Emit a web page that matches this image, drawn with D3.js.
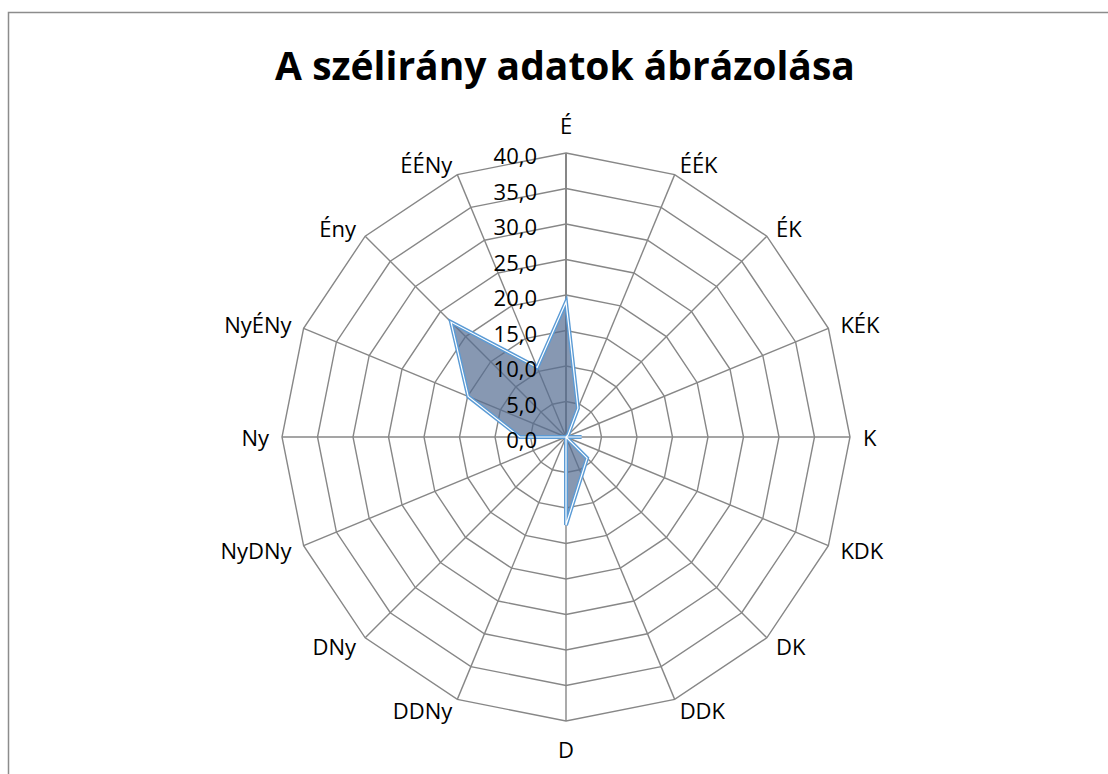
<!DOCTYPE html>
<meta charset="utf-8">
<style>

body {
  margin: 0;
  background: #fff;
}

text {
  font-family: "Open Sans", sans-serif;
  fill: #000;
}

.grid {
  fill: none;
  stroke: #878787;
  stroke-width: 1.4px;
}

</style>
<body>
<script src="https://cdn.jsdelivr.net/npm/d3@7/dist/d3.min.js"></script>
<script>

var directions = ["É", "ÉÉK", "ÉK", "KÉK", "K", "KDK", "DK", "DDK",
                  "D", "DDNy", "DNy", "NyDNy", "Ny", "NyÉNy", "Ény", "ÉÉNy"];

var values = [19.0, 4.4, 0.4, 0, 2.2, 0, 4.2, 5.8,
              12.4, 0, 0, 0, 6.5, 14.9, 22.9, 10.6];

var ticks = [0, 5, 10, 15, 20, 25, 30, 35, 40];

var w = 1108,
    h = 774,
    cx = 566,
    cy = 437,
    R = 284;

var svg = d3.select("body").append("svg")
    .attr("width", w)
    .attr("height", h);

svg.append("rect")
    .attr("x", 8.5)
    .attr("y", 12.5)
    .attr("width", 1300)
    .attr("height", 1000)
    .attr("fill", "none")
    .attr("stroke", "#8c8c8c")
    .attr("stroke-width", 1.5);

svg.append("text")
    .attr("x", 565)
    .attr("y", 80)
    .attr("text-anchor", "middle")
    .style("font-size", "39px")
    .style("font-weight", "bold")
    .text("A szélirány adatok ábrázolása");

var r = d3.scaleLinear().domain([0, 40]).range([0, R]);

var angle = d3.scalePoint()
    .domain(d3.range(directions.length + 1))
    .range([0, 2 * Math.PI]);

var fmt = function(d) { return d3.format(".1f")(d).replace(".", ","); };

var g = svg.append("g")
    .attr("transform", "translate(" + cx + "," + cy + ")");

// rings
var ring = d3.lineRadial()
    .angle(function(d, i) { return angle(i); })
    .curve(d3.curveLinearClosed);

g.selectAll(".ring")
    .data(ticks.slice(1))
  .enter().append("path")
    .attr("class", "grid")
    .attr("d", function(t) {
      return ring.radius(r(t))(directions.map(function() { return 0; }));
    });

// spokes
g.selectAll(".spoke")
    .data(directions)
  .enter().append("line")
    .attr("class", "grid")
    .attr("x2", function(d, i) { return r(40) * Math.sin(angle(i)); })
    .attr("y2", function(d, i) { return -r(40) * Math.cos(angle(i)); })
    .style("stroke-width", function(d, i) { return i === 0 ? 2 : 1.4; });

// series
var area = d3.lineRadial()
    .angle(function(d, i) { return angle(i); })
    .radius(function(d) { return r(d); })
    .curve(d3.curveLinearClosed);

g.append("path")
    .datum(values)
    .attr("d", area)
    .attr("fill", "rgb(84,108,146)")
    .attr("fill-opacity", 0.7)
    .attr("stroke", "#5b9bd5")
    .attr("stroke-width", 4)
    .attr("stroke-linejoin", "miter");

g.append("path")
    .datum(values)
    .attr("d", area)
    .attr("fill", "none")
    .attr("stroke", "#fff")
    .attr("stroke-width", 1.2);

// value axis labels
g.selectAll(".tick")
    .data(ticks)
  .enter().append("text")
    .attr("x", -29)
    .attr("y", function(t) { return -r(t) + 2; })
    .attr("text-anchor", "end")
    .attr("dominant-baseline", "central")
    .style("font-size", "22px")
    .text(fmt);

// category labels
g.selectAll(".cat")
    .data(directions)
  .enter().append("text")
    .each(function(d, i) {
      var a = angle(i),
          s = Math.sin(a),
          c = Math.cos(a),
          mid = Math.abs(s) < 0.05,
          x = R * s + 13 * s,
          y = -R * c - 12 * c - (mid ? 16 * c : 0);
      d3.select(this)
          .attr("x", x)
          .attr("y", y)
          .attr("text-anchor", mid ? "middle" : (s > 0 ? "start" : "end"))
          .attr("dominant-baseline", "central");
    })
    .style("font-size", "22px")
    .text(function(d) { return d; });

</script>
</body>
